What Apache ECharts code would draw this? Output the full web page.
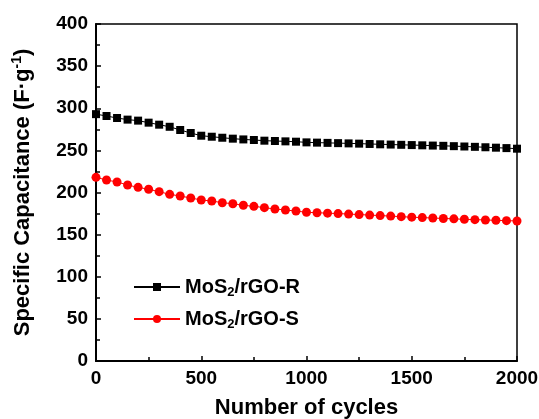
<!DOCTYPE html>
<html>
<head>
<meta charset="utf-8">
<script src="https://cdn.jsdelivr.net/npm/echarts@6/dist/echarts.min.js"></script>
<style>
    html, body { margin: 0; padding: 0; background: #fff; }
    #main { width: 539px; height: 419px; }
</style>
</head>
<body>
<div id="main"></div>
<script>
// 循环次数 0..2000, 每 50 次一个点
var cycles = [0, 50, 100, 150, 200, 250, 300, 350, 400, 450, 500, 550, 600, 650, 700, 750, 800, 850, 900, 950,
    1000, 1050, 1100, 1150, 1200, 1250, 1300, 1350, 1400, 1450, 1500, 1550, 1600, 1650, 1700, 1750, 1800, 1850, 1900, 1950, 2000];

var capR = [293, 290.8, 288.4, 286.5, 285.3, 282.9, 280.5, 278, 274.2, 270.6, 267.4, 266.2, 265, 263.9, 263, 262.3, 261.5, 261.1, 260.7, 260.3,
    259.5, 259.2, 258.9, 258.6, 258.3, 258, 257.6, 257.2, 256.9, 256.6, 256.3, 256, 255.7, 255.4, 255, 254.6, 254.2, 253.7, 253.2, 252.7, 252];

var capS = [218, 214.8, 212.5, 208.9, 206.1, 203.8, 201, 197.8, 195.8, 193.5, 191.1, 189.9, 187.9, 186.7, 184.8, 183.6, 182, 180.4, 179.2, 178,
    176.5, 176, 175.5, 175, 174.4, 173.8, 173.2, 172.6, 172, 171.3, 170.7, 170.2, 169.7, 169.2, 168.7, 168.2, 167.8, 167.4, 167, 166.6, 166.2];

var seriesNames = ['MoS2/rGO-R', 'MoS2/rGO-S'];
var xTicks = [0, 2000, 500];
var yTicks = [0, 400, 50];

function pairs(ys) {
    var out = [];
    for (var i = 0; i < cycles.length; i++) {
        out.push([cycles[i], ys[i]]);
    }
    return out;
}

var myChart = echarts.init(document.getElementById('main'));
var font = 'Liberation Sans, Arial, sans-serif';

var option = {
    animation: false,
    textStyle: { fontFamily: font },
    grid: {
        left: 96, right: 22, top: 24, bottom: 58,
        outerBoundsMode: 'none',
        show: true, borderColor: '#000', borderWidth: 1.5
    },
    legend: {
        orient: 'vertical',
        left: 128,
        top: 272,
        itemWidth: 46,
        itemHeight: 10,
        itemGap: 10,
        data: seriesNames,
        formatter: function (name) {
            var parts = name.split('2');
            return '{n|' + parts[0] + '}{s|2}{n|' + parts[1] + '}';
        },
        textStyle: {
            rich: {
                n: { fontSize: 20, fontWeight: 'bold', color: '#000', fontFamily: font },
                s: { fontSize: 13, fontWeight: 'bold', color: '#000', fontFamily: font, padding: [11, 0, 0, 0] }
            }
        }
    },
    xAxis: {
        type: 'value',
        min: xTicks[0], max: xTicks[1], interval: xTicks[2],
        name: 'Number of cycles',
        nameLocation: 'middle',
        nameGap: 36,
        nameTextStyle: { fontSize: 22, fontWeight: 'bold', color: '#000' },
        axisLine: { lineStyle: { color: '#000', width: 2 } },
        axisTick: { inside: true, length: 5, lineStyle: { color: '#000', width: 1.5 } },
        minorTick: { show: true, splitNumber: 2, length: 4, lineStyle: { color: '#000', width: 1.5 } },
        axisLabel: {
            fontSize: 19, fontWeight: 'bold', color: '#000', margin: 8,
            formatter: function (v) { return String(v); }
        },
        splitLine: { show: false }
    },
    yAxis: {
        type: 'value',
        min: yTicks[0], max: yTicks[1], interval: yTicks[2],
        name: '{a|Specific Capacitance (F·g}{b|-1}{a|)}',
        nameLocation: 'middle',
        nameGap: 60,
        nameTextStyle: {
            rich: {
                a: { fontSize: 22, fontWeight: 'bold', color: '#000', fontFamily: font },
                b: { fontSize: 14, fontWeight: 'bold', color: '#000', fontFamily: font, padding: [0, 0, 12, 0] }
            }
        },
        axisLine: { lineStyle: { color: '#000', width: 2 } },
        axisTick: { inside: true, length: 5, lineStyle: { color: '#000', width: 1.5 } },
        minorTick: { show: true, splitNumber: 2, length: 4, lineStyle: { color: '#000', width: 1.5 } },
        axisLabel: { fontSize: 19, fontWeight: 'bold', color: '#000', margin: 8 },
        splitLine: { show: false }
    },
    series: [
        {
            name: seriesNames[0],
            type: 'line',
            data: pairs(capR),
            symbol: 'rect',
            symbolSize: 8,
            itemStyle: { color: '#000' },
            lineStyle: { color: '#000', width: 1 }
        },
        {
            name: seriesNames[1],
            type: 'line',
            data: pairs(capS),
            symbol: 'circle',
            symbolSize: 9,
            itemStyle: { color: '#ff0000' },
            lineStyle: { color: '#ff0000', width: 1 }
        }
    ]
};

myChart.setOption(option);
</script>
</body>
</html>
